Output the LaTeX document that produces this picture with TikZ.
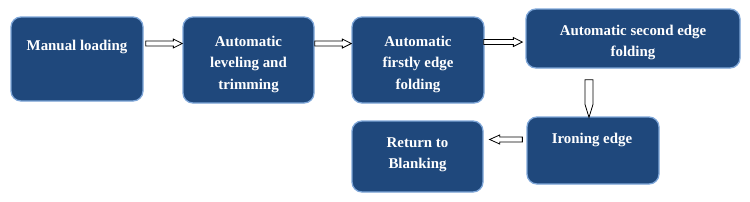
\documentclass[tikz,border=0pt]{standalone}
\usepackage{fontspec}
\setmainfont{Liberation Serif}
\usetikzlibrary{calc}
\definecolor{boxfill}{HTML}{1F487C}
\definecolor{boxline}{HTML}{7EA6D8}
\tikzset{
  procbox/.style={draw=boxline, line width=1.3pt, fill=boxfill, rounded corners=10pt, inner sep=0pt},
  proctext/.style={text=white, font=\fontsize{14.9}{21.5}\selectfont\bfseries, align=center, inner sep=0pt},
  blockarrow/.style={draw=black, fill=white, line width=0.8pt, line join=miter}
}
\begin{document}
\begin{tikzpicture}[x=1pt,y=-1pt]
\useasboundingbox (0,0) rectangle (750,201);
% boxes
\node[procbox, minimum width=132pt, minimum height=84pt] (b1) at (77,59) {};
\node[procbox, minimum width=131pt, minimum height=86pt] (b2) at (248.5,60) {};
\node[procbox, minimum width=132pt, minimum height=86pt] (b3) at (418,60) {};
\node[procbox, minimum width=214pt, minimum height=59pt] (b4) at (633,38.5) {};
\node[procbox, minimum width=132pt, minimum height=67pt] (b5) at (593,150.5) {};
\node[procbox, minimum width=131pt, minimum height=71pt] (b6) at (417.5,156.5) {};
% texts
\node[proctext] (t1) at ($(b1.center)+(0,-12)$) {Manual loading};
\node[proctext] (t2) at ($(b2.center)+(0,4)$) {Automatic\\leveling and\\trimming};
\node[proctext] (t3) at ($(b3.center)+(0,4)$) {Automatic\\firstly edge\\folding};
\node[proctext] (t4) at ($(b4.center)+(0,4)$) {Automatic second edge\\folding};
\node[proctext] (t5) at ($(b5.center)+(-1,-10.5)$) {Ironing edge};
\node[proctext] (t6) at ($(b6.center)+(0,-1.5)$) {Return to\\Blanking};
% arrow end points
\coordinate (s12) at ($(b1.east)+(2,-15.5)$);
\coordinate (e12) at ($(b2.west)+(0,-16.5)$);
\coordinate (s23) at ($(b2.east)+(0,-16.5)$);
\coordinate (e23) at ($(b3.west)+(0,-16.5)$);
\coordinate (s34) at ($(b3.east)+(-1,-18)$);
\coordinate (e34) at ($(b4.west)+(-3,3.5)$);
\coordinate (s45) at ($(b4.south)+(-44,11)$);
\coordinate (e45) at ($(b5.north)+(-4,1)$);
\coordinate (s56) at ($(b5.west)+(-4,-11)$);
\coordinate (e56) at ($(b6.east)+(6,-17)$);
% right arrows
\foreach \s/\e in {s12/e12, s23/e23, s34/e34}{
  \draw[blockarrow] let \p1=(\s), \p2=(\e) in
    (\x1,\y1+2.5pt) -- (\x2-9pt,\y1+2.5pt) -- (\x2-9pt,\y1+4.5pt) -- (\x2,\y1)
    -- (\x2-9pt,\y1-4.5pt) -- (\x2-9pt,\y1-2.5pt) -- (\x1,\y1-2.5pt) -- cycle;
}
% down arrow
\draw[blockarrow] let \p1=(s45), \p2=(e45) in
  (\x1-4pt,\y1) -- (\x1+4pt,\y1) -- (\x1+4pt,\y2+13pt) -- (\x1,\y2)
  -- (\x1-4pt,\y2+13pt) -- cycle;
% left arrow
\draw[blockarrow] let \p1=(s56), \p2=(e56) in
  (\x1,\y1+2.5pt) -- (\x2+10pt,\y1+2.5pt) -- (\x2+10pt,\y1+4.5pt) -- (\x2,\y1)
  -- (\x2+10pt,\y1-4.5pt) -- (\x2+10pt,\y1-2.5pt) -- (\x1,\y1-2.5pt) -- cycle;
\end{tikzpicture}
\end{document}
